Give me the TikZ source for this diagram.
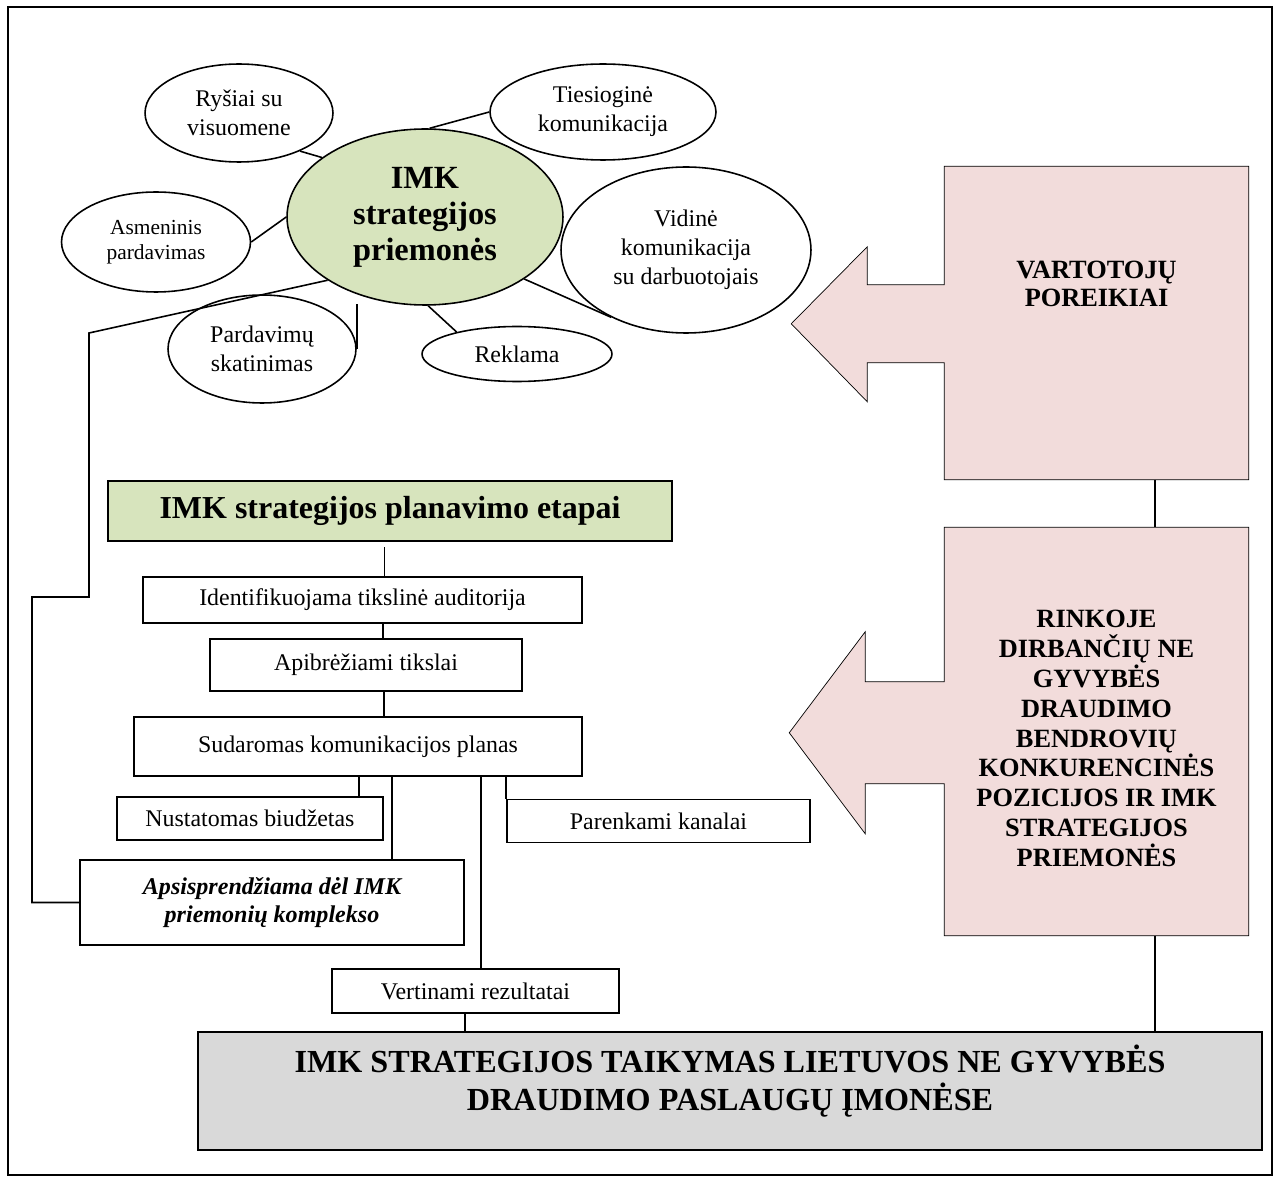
\documentclass[tikz,border=0pt]{standalone}
\usepackage{fontspec}
\setmainfont{Liberation Serif}
\usepackage{tikz}
\usetikzlibrary{shapes.geometric,backgrounds}
\definecolor{imkgreen}{HTML}{D7E4BD}
\definecolor{imkpink}{HTML}{F2DCDB}
\definecolor{imkgray}{HTML}{D9D9D9}

\begin{document}
\begin{tikzpicture}[
  x=0.02cm, y=-0.02cm,
  line width=0.9pt,
  toolnode/.style={ellipse, draw, fill=white, inner sep=0pt, align=center,
                   font=\fontsize{13.6}{16.5}\selectfont},
  hubnode/.style={ellipse, draw, fill=imkgreen, inner sep=0pt, align=center,
                  font=\fontsize{18.4}{20.5}\selectfont\bfseries},
  titlebox/.style={rectangle, draw, line width=1.1pt, fill=imkgreen, inner sep=0pt,
                   font=\fontsize{18.2}{20}\selectfont\bfseries},
  stagebox/.style={rectangle, draw, line width=1.1pt, fill=white, inner sep=0pt, align=center,
                   font=\fontsize{13.6}{16}\selectfont},
  sidebox/.style={rectangle, inner sep=0pt, minimum width=6.06cm},
  sidetext/.style={align=center, font=\fontsize{15}{17}\selectfont\bfseries},
  sideshape/.style={draw, fill=imkpink, line join=miter},
  resultbox/.style={rectangle, draw, line width=1.1pt, fill=imkgray, inner sep=0pt,
                    minimum width=21.28cm, minimum height=2.36cm}
]
\useasboundingbox (0,0) rectangle (1278,1182);

% Frame
\draw (8,7) rectangle (1272,1175);

% IMK tools
\node[toolnode, minimum width=3.76cm, minimum height=1.96cm] (rys) at (239,113) {Ryšiai su\\visuomene};
\node[toolnode, minimum width=4.52cm, minimum height=1.92cm] (ties) at (603,112) {Tiesioginė\\komunikacija};
\node[toolnode, minimum width=5cm, minimum height=3.32cm] (vid) at (686,250) {Vidinė\\komunikacija\\su darbuotojais};
\node[hubnode, minimum width=5.52cm, minimum height=3.52cm] (cent) at (425,217) {IMK\\strategijos\\priemonės};
\node[toolnode, minimum width=3.78cm, minimum height=2cm, font=\fontsize{12.2}{14.5}\selectfont] (asm) at (156,242) {Asmeninis\\pardavimas};
\node[toolnode, minimum width=3.76cm, minimum height=2.16cm] (pard) at (262,349) {Pardavimų\\skatinimas};
\node[toolnode, minimum width=3.8cm, minimum height=1.1cm] (rek) at (517,354) {Reklama};

\draw (rys.-32) -- (cent.150);
\draw (ties.west) -- (cent.87);
\draw (asm.east) -- (cent.west);
\draw (cent.-32) -- (vid.-138);
\draw (cent.-88) -- (rek.160);
\draw (pard.east) -- ++(0,-45);

% Planning stages
\node[titlebox, minimum width=11.28cm, minimum height=1.2cm] (plan) at (390,511) {IMK strategijos planavimo etapai};
\node[stagebox, minimum width=8.78cm, minimum height=0.92cm] (ident) at (362.5,600) {Identifikuojama tikslinė auditorija};
\node[stagebox, minimum width=6.24cm, minimum height=1.04cm] (apib) at (366,665) {Apibrėžiami tikslai};
\node[stagebox, minimum width=8.96cm, minimum height=1.18cm] (sud) at (358,746.5) {Sudaromas komunikacijos planas};
\node[stagebox, minimum width=5.32cm, minimum height=0.86cm] (nust) at (250,818.5) {Nustatomas biudžetas};
\node[stagebox, minimum width=6.06cm, minimum height=0.86cm] (pare) at (658.5,821) {Parenkami kanalai};
\node[stagebox, minimum width=7.68cm, minimum height=1.7cm, font=\fontsize{13.7}{15.5}\selectfont\bfseries\itshape] (aps) at (272,902.5) {Apsisprendžiama dėl IMK\\priemonių komplekso};
\node[stagebox, minimum width=5.74cm, minimum height=0.88cm] (vert) at (475.5,991) {Vertinami rezultatai};

% Result
\node[resultbox, label={[align=center, font=\fontsize{18.3}{21.5}\selectfont\bfseries, yshift=0.2cm]center:IMK STRATEGIJOS TAIKYMAS LIETUVOS NE GYVYBĖS\\DRAUDIMO PASLAUGŲ ĮMONĖSE}] (impl) at (730,1091) {};

% Side factors
\node[sidebox, minimum height=6.24cm, label={[sidetext, font=\fontsize{15}{16}\selectfont\bfseries, yshift=0.78cm]center:VARTOTOJŲ\\POREIKIAI}] (vart) at (1096.5,323) {};
\node[sidebox, minimum height=8.14cm, label={[sidetext, yshift=-0.14cm]center:RINKOJE\\DIRBANČIŲ NE\\GYVYBĖS\\DRAUDIMO\\BENDROVIŲ\\KONKURENCINĖS\\POZICIJOS IR IMK\\STRATEGIJOS\\PRIEMONĖS}] (rink) at (1096.5,731.5) {};

\begin{scope}[on background layer]
\draw[sideshape] (vart.north west) -- (vart.north east) -- (vart.south east) -- (vart.south west)
  -- ++(0,-117) -- ++(-77,0) -- ++(0,39) -- ++(-76,-78) -- ++(76,-77) -- ++(0,38) -- ++(77,0) -- cycle;
\draw[sideshape] (rink.north west) -- (rink.north east) -- (rink.south east) -- (rink.south west)
  -- ++(0,-152) -- ++(-79,0) -- ++(0,50) -- ++(-76,-101) -- ++(76,-101) -- ++(0,50) -- ++(79,0) -- cycle;
\end{scope}

% Links
\draw ([xshift=0.44cm]ident.north) -- ++(0,-29);
\draw ([xshift=0.34cm]apib.north) -- ([xshift=0.34cm]apib.north |- ident.south);
\draw ([xshift=0.52cm]sud.north) -- ([xshift=0.52cm]sud.north |- apib.south);
\draw ([xshift=2.18cm]nust.north) -- ([xshift=2.18cm]nust.north |- sud.south);
\draw ([xshift=2.4cm]aps.north) -- ([xshift=2.4cm]aps.north |- sud.south);
\draw ([xshift=0.11cm]vert.north) -- ([xshift=0.11cm]vert.north |- sud.south);
\draw (pare.north west) -- (pare.north west |- sud.south);
\draw ([xshift=-0.21cm]vert.south) -- ([xshift=-0.21cm]vert.south |- impl.north);
\draw ([xshift=1.17cm]vart.south) -- ([xshift=1.17cm]rink.north);
\draw ([xshift=1.17cm]rink.south) -- ([xshift=1.17cm]rink.south |- impl.north);
\draw (cent.-147) -- (89,333) -- (89,597) -- (32,597) |- (aps.west);

\end{tikzpicture}
\end{document}
